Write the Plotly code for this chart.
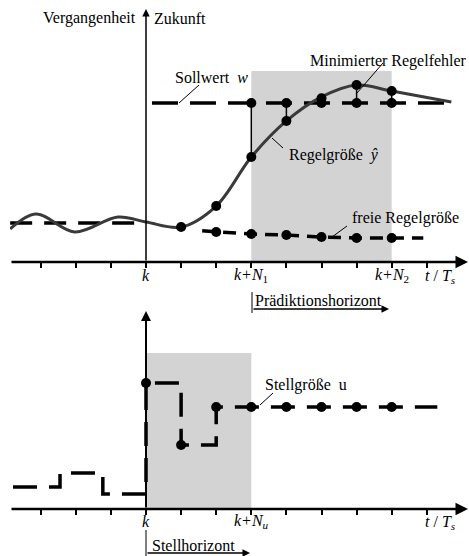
import plotly.graph_objects as go

# ---------------- data (signal units) ----------------
# time in sampling steps relative to k
tick_t = [-3, -2, -1, 0, 1, 2, 3, 4, 5, 6, 7, 8]
top_label_t = [0, 3, 7]
top_labels = ["<i>k</i>", "<i>k+N</i><sub>1</sub>", "<i>k+N</i><sub>2</sub>"]
bot_label_t = [0, 3]
bot_labels = ["<i>k</i>", "<i>k+N<sub>u</sub></i>"]

# controlled variable (past + predicted)
t_curve = [-3.87, -3.13, -2.03, -0.8, 0, 1, 2, 3, 4, 5, 6, 7, 8.7]
y_curve = [0.208, 0.302, 0.189, 0.283, 0.252, 0.220, 0.352, 0.660, 0.887, 1.038, 1.113, 1.075, 1.006]
t_curve_dots = [1, 2, 3, 4, 5, 6, 7]
y_curve_dots = [0.220, 0.352, 0.660, 0.887, 1.030, 1.113, 1.075]

# setpoint
t_w = [0.17, 8.7]
y_w = [1.0, 1.0]
t_w_dots = [3, 4, 5, 6, 7]
y_w_dots = [1.0, 1.0, 1.0, 1.0, 1.0]

# free response
t_free_past = [-3.87, 0]
y_free_past = [0.245, 0.245]
t_free = [1.6, 2, 3, 4, 5, 6, 7, 7.9]
y_free = [0.197, 0.189, 0.176, 0.170, 0.157, 0.151, 0.151, 0.151]
t_free_dots = [2, 3, 4, 5, 6, 7]
y_free_dots = [0.189, 0.176, 0.170, 0.157, 0.151, 0.151]

# manipulated variable u
t_u = [-3.79, -2.45, -1.23, 0, 1, 2, 8.3]
y_u = [0.175, 0.286, 0.119, 1.0, 0.508, 0.810, 0.810]
t_u_dots = [0, 1, 2, 3, 4, 5, 6, 7]
y_u_dots = [1.0, 0.508, 0.810, 0.810, 0.810, 0.810, 0.810, 0.810]

# horizons
N1, N2, Nu = 3, 7, 3

# ---------------- geometry helpers (pixel layout) ----------------
W, H = 469, 556
ML = 10
PX0, DX = 146, 35.1
TOP_AX, TOP_SC = 262, 159.0
BOT_AX, BOT_SC = 509, 126.0


def tx(p):
    return (p - PX0) / DX


def ptop(p):
    return (TOP_AX - p) / TOP_SC


def pbot(p):
    return (BOT_AX - p) / BOT_SC


def paper_x(p):
    return (p - ML) / (W - ML)


def paper_y(p):
    return 1 - p / H


FONT = dict(family="Liberation Serif", size=16, color="black")
NB = "\u00a0"

fig = go.Figure()

# ---- top chart traces ----
fig.add_trace(go.Scatter(x=t_free_past, y=y_free_past, mode="lines",
                         line=dict(color="black", width=3.5, dash="22px,12px"),
                         xaxis="x", yaxis="y"))
fig.add_trace(go.Scatter(x=t_free, y=y_free, mode="lines",
                         line=dict(color="black", width=3.5, dash="13px,8px"),
                         xaxis="x", yaxis="y"))
fig.add_trace(go.Scatter(x=t_w, y=y_w, mode="lines",
                         line=dict(color="black", width=3.5, dash="26px,12px"),
                         xaxis="x", yaxis="y"))
# control error bars
ex, ey = [], []
for t, yw, yc in zip(t_w_dots, y_w_dots, y_curve_dots[2:]):
    ex += [t, t, None]
    ey += [yw, yc, None]
fig.add_trace(go.Scatter(x=ex, y=ey, mode="lines", line=dict(color="black", width=1.5),
                         xaxis="x", yaxis="y"))
fig.add_trace(go.Scatter(x=t_curve, y=y_curve, mode="lines",
                         line=dict(color="#3a3a3a", width=3, shape="spline", smoothing=1.0),
                         xaxis="x", yaxis="y"))
for tt, yy in [(t_curve_dots, y_curve_dots), (t_w_dots, y_w_dots), (t_free_dots, y_free_dots)]:
    fig.add_trace(go.Scatter(x=tt, y=yy, mode="markers",
                             marker=dict(color="black", size=10),
                             xaxis="x", yaxis="y"))

# ---- bottom chart traces ----
fig.add_trace(go.Scatter(x=t_u, y=y_u, mode="lines",
                         line=dict(color="black", width=3.5, dash="24px,12px", shape="hv"),
                         xaxis="x2", yaxis="y2"))
fig.add_trace(go.Scatter(x=t_u_dots, y=y_u_dots, mode="markers",
                         marker=dict(color="black", size=10),
                         xaxis="x2", yaxis="y2"))

# ---- shapes ----
shapes = [
    dict(type="rect", xref="x", yref="y", x0=N1, x1=N2, y0=0, y1=ptop(71),
         fillcolor="#d3d3d3", line=dict(width=0), layer="below"),
    dict(type="rect", xref="x2", yref="y2", x0=0, x1=Nu, y0=0, y1=pbot(353),
         fillcolor="#d3d3d3", line=dict(width=0), layer="below"),
]


def pline(x0, y0, x1, y1, w=1):
    return dict(type="line", xref="paper", yref="paper",
                x0=paper_x(x0), y0=paper_y(y0), x1=paper_x(x1), y1=paper_y(y1),
                line=dict(color="black", width=w))


# leader lines
shapes += [
    pline(179, 103, 199, 85),
    pline(357, 93, 383, 63),
    pline(272, 138, 283, 148),
    pline(332, 237, 347, 226),
    pline(260, 405, 273, 393),
    # horizon bars
    pline(252, 292, 252, 313),
    pline(146, 530, 146, 556),
]

# ---- annotations ----
anns = []


def text(s, px, py, xanchor="left"):
    anns.append(dict(text=s, x=paper_x(px), y=paper_y(py), xref="paper", yref="paper",
                     xanchor=xanchor, yanchor="middle", showarrow=False, font=FONT))


def arrow(x0, y0, x1, y1, xr, yr, w):
    anns.append(dict(text="", x=x1, y=y1, ax=x0, ay=y0, xref=xr, yref=yr,
                     axref=xr, ayref=yr, showarrow=True, arrowhead=2,
                     arrowsize=1, arrowwidth=w, arrowcolor="black"))


def parrow(px0, px1, py, w):
    # horizontal arrow in pixel layout, tail offset given in pixels
    anns.append(dict(text="", x=paper_x(px1), y=paper_y(py), xref="paper", yref="paper",
                     ax=px0 - px1, ay=0, axref="pixel", ayref="pixel", showarrow=True,
                     arrowhead=2, arrowsize=1, arrowwidth=w, arrowcolor="black"))


# axes arrows
arrow(tx(10), 0, tx(468), 0, "x", "y", 2.5)
arrow(0, 0, 0, ptop(9), "x", "y", 1.5)
arrow(tx(10), 0, tx(468), 0, "x2", "y2", 2.5)
arrow(0, 0, 0, pbot(311), "x2", "y2", 2)
# horizon arrows
parrow(252, 389, 309, 1.5)
parrow(146, 250, 553, 1.5)

# tick labels on the time axes
for t, s in zip(top_label_t, top_labels):
    anns.append(dict(text=s, x=t, xref="x", y=paper_y(275), yref="paper",
                     xanchor="center", yanchor="middle", showarrow=False, font=FONT))
for t, s in zip(bot_label_t, bot_labels):
    anns.append(dict(text=s, x=t, xref="x2", y=paper_y(521), yref="paper",
                     xanchor="center", yanchor="middle", showarrow=False, font=FONT))

text("Vergangenheit", 138, 18, "right")
text("Zukunft", 152, 18)
text("Sollwert" + NB + NB + "<i>w</i>", 173, 77)
text("Minimierter Regelfehler", 469, 61, "right")
text("Regelgröße" + NB + NB + "<i>ŷ</i>", 287, 155)
text("freie Regelgröße", 350, 218)
text("<i>t</i> / <i>T</i><sub><i>s</i></sub>", 440, 276, "center")
text("Prädiktionshorizont", 253, 300)
text("Stellgröße" + NB + NB + "u", 263, 385)
text("<i>t</i> / <i>T</i><sub><i>s</i></sub>", 440, 522, "center")
text("Stellhorizont", 150, 545)

axis_common = dict(range=[tx(ML), tx(W)], showgrid=False, zeroline=False, showline=False,
                   ticks="outside", ticklen=5, tickwidth=1.5, tickcolor="black",
                   tickvals=tick_t, showticklabels=False, fixedrange=True)

fig.update_layout(
    width=W, height=H,
    margin=dict(l=ML, r=0, t=0, b=0),
    paper_bgcolor="white", plot_bgcolor="rgba(0,0,0,0)",
    showlegend=False,
    xaxis=dict(domain=[0, 1], anchor="y", **axis_common),
    yaxis=dict(domain=[1 - TOP_AX / H, 1], range=[0, TOP_AX / TOP_SC], visible=False),
    xaxis2=dict(domain=[0, 1], anchor="y2", **axis_common),
    yaxis2=dict(domain=[1 - BOT_AX / H, 1 - 300 / H], range=[0, (BOT_AX - 300) / BOT_SC],
                visible=False),
    shapes=shapes,
    annotations=anns,
)

fig.write_html("out.html", config={"displayModeBar": False},
               post_script="document.body.style.margin='0';document.body.style.overflow='hidden';")
